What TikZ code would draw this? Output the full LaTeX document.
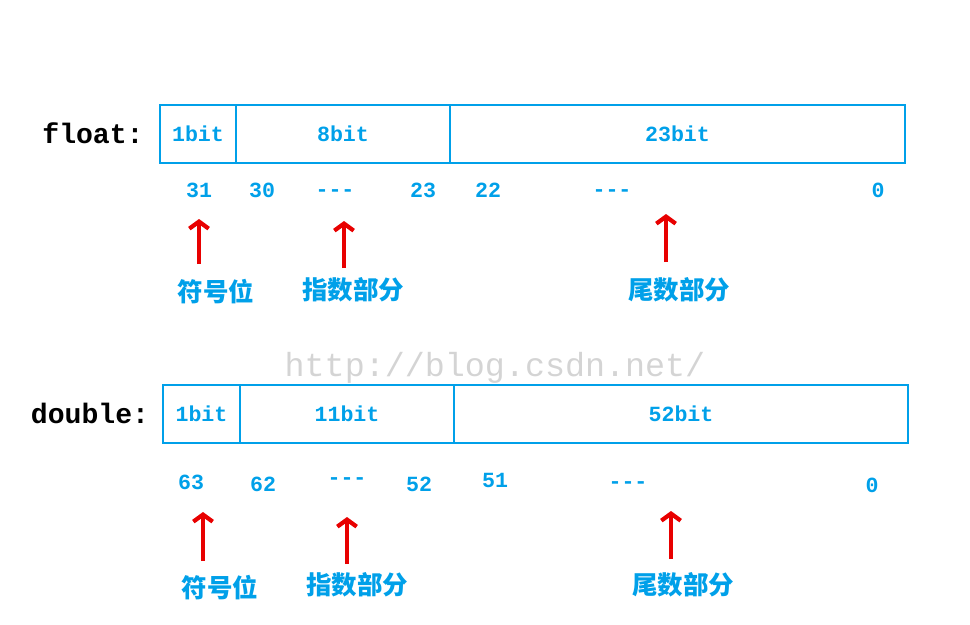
\documentclass[tikz,border=0pt]{standalone}
\usepackage{fontspec}
\setmonofont{Liberation Mono}
\newfontfamily\cjk{Noto Sans CJK SC}
\usetikzlibrary{arrows.meta}
\definecolor{bitblue}{RGB}{0,160,233}
\definecolor{ptrred}{RGB}{232,0,0}
\definecolor{wmgray}{RGB}{212,212,212}
\tikzset{
  field/.style={draw=bitblue, line width=1.1pt, inner sep=0pt, outer sep=0pt,
    minimum height=1.16cm, text=bitblue, font=\fontsize{12.3}{14}\ttfamily\bfseries},
  numlbl/.style={text=bitblue, inner sep=0pt, text height=8pt, text depth=0pt,
    font=\fontsize{12.3}{14}\ttfamily\bfseries},
  typelbl/.style={inner sep=0pt, font=\fontsize{16}{18}\ttfamily\bfseries},
  partlbl/.style={text=bitblue, inner sep=0pt, font=\fontsize{14.5}{16}\cjk\bfseries},
  ptr/.style={draw=ptrred, line width=2.4pt, -{Straight Barb[length=4pt,width=11pt]}},
  wm/.style={text=wmgray, inner sep=0pt, font=\fontsize{19}{21}\ttfamily}
}
\begin{document}
\begin{tikzpicture}[x=0.02cm, y=-0.02cm]
  \useasboundingbox (0,0) rectangle (970,625);
  % float
  \node[typelbl] (ft) at (93,133) {float:};
  \node[field, minimum width=1.52cm] (f1) at (198,134) {1bit};
  \node[field, minimum width=4.28cm] (f2) at (343,134) {8bit};
  \node[field, minimum width=9.10cm] (f3) at (677.5,134) {23bit};
  \draw
    (199,190) node[numlbl] (f31){31}
    (262,190) node[numlbl] (f30){30}
    (335,189) node[numlbl] (fd1){-{}-{}-}
    (423,190) node[numlbl] (f23){23}
    (488,190) node[numlbl] (f22){22}
    (612,189) node[numlbl] (fd2){-{}-{}-}
    (878,190) node[numlbl] (f0){0};
  \node[partlbl] (fs) at (216,292) {符号位};
  \node[partlbl] (fe) at (353,290) {指数部分};
  \node[partlbl] (fm) at (679,290) {尾数部分};
  \coordinate (fa1) at (199,264);
  \coordinate (fb1) at (199,219);
  \coordinate (fa2) at (344,268);
  \coordinate (fb2) at (344,221);
  \coordinate (fa3) at (666,262);
  \coordinate (fb3) at (666,214);
  \begin{scope}[ptr]
    \draw (fa1) to (fb1);
    \draw (fa2) to (fb2);
    \draw (fa3) to (fb3);
  \end{scope}
  % watermark
  \node[wm] (wm) at (495,368) {http://blog.csdn.net/};
  % double
  \node[typelbl] (dt) at (90,413) {double:};
  \node[field, minimum width=1.54cm] (d1) at (201.5,414) {1bit};
  \node[field, minimum width=4.28cm] (d2) at (347,414) {11bit};
  \node[field, minimum width=9.08cm, text depth=-8pt] (d3) at (681,414) {52bit};
  \draw
    (191,482) node[numlbl] (d63){63}
    (263,484) node[numlbl] (d62){62}
    (347,477) node[numlbl] (dd1){-{}-{}-}
    (419,484) node[numlbl] (d52){52}
    (495,480) node[numlbl] (d51){51}
    (628,481) node[numlbl] (dd2){-{}-{}-}
    (872,485) node[numlbl] (d0){0};
  \node[partlbl] (ds) at (220,588) {符号位};
  \node[partlbl] (de) at (357,585) {指数部分};
  \node[partlbl] (dm) at (683,585) {尾数部分};
  \coordinate (da1) at (203,561);
  \coordinate (db1) at (203,512);
  \coordinate (da2) at (347,564);
  \coordinate (db2) at (347,517);
  \coordinate (da3) at (671,559);
  \coordinate (db3) at (671,511);
  \begin{scope}[ptr]
    \draw (da1) to (db1);
    \draw (da2) to (db2);
    \draw (da3) to (db3);
  \end{scope}
\end{tikzpicture}
\end{document}
